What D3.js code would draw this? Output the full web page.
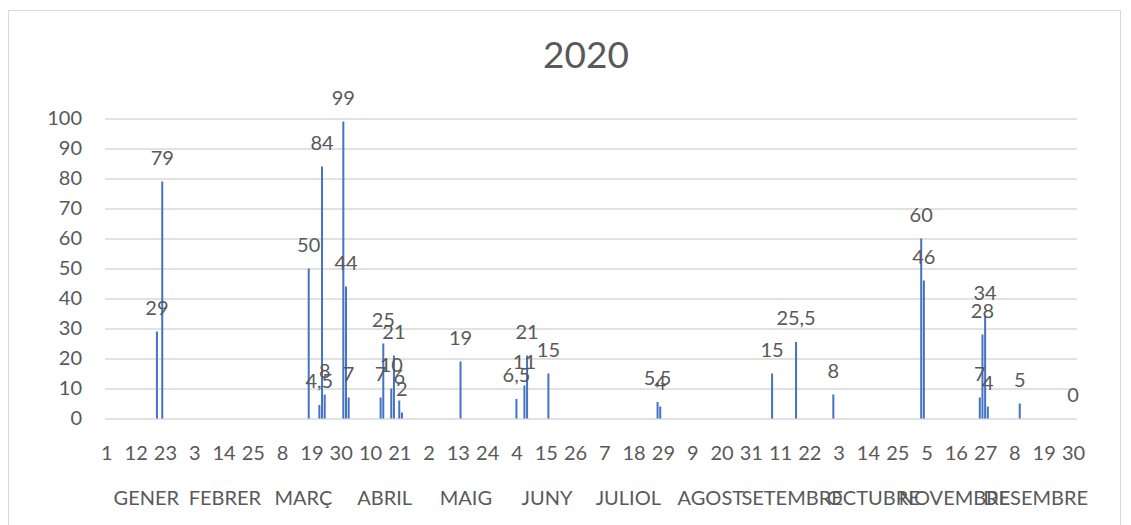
<!DOCTYPE html>
<html>
<head>
<meta charset="utf-8">
<script src="https://cdn.jsdelivr.net/npm/d3@7"></script>
<style>
  body { margin: 0; background: #fff; }
  text { font-family: Lato, "Open Sans", sans-serif; fill: #595959; }
</style>
</head>
<body>
<svg id="chart"></svg>
<script>
// day of year (0 = 1 gener) and value for each bar
const days   = [19, 21, 76, 80, 81, 82, 89, 90, 91, 103, 104, 107, 108, 110, 111, 133, 154, 157, 158, 166, 207, 208, 250, 259, 273, 306, 307, 328, 329, 330, 331, 343, 363];
const values = [29, 79, 50, 4.5, 84, 8, 99, 44, 7, 7, 25, 10, 21, 6, 2, 19, 6.5, 11, 21, 15, 5.5, 4, 15, 25.5, 8, 60, 46, 7, 28, 34, 4, 5, 0];

// x tick labels, one every 11 days
const tickLabels = [1, 12, 23, 3, 14, 25, 8, 19, 30, 10, 21, 2, 13, 24, 4, 15, 26, 7, 18, 29, 9, 20, 31, 11, 22, 3, 14, 25, 5, 16, 27, 8, 19, 30];
const tickDays = tickLabels.map((d, i) => i * 11);

// month labels and the day each month starts on
const months = ["GENER", "FEBRER", "MARÇ", "ABRIL", "MAIG", "JUNY", "JULIOL", "AGOST", "SETEMBRE", "OCTUBRE", "NOVEMBRE", "DESEMBRE"];
const monthStarts = [0, 31, 59, 90, 120, 151, 181, 212, 243, 273, 304, 334, 365];

const yTicks = [0, 10, 20, 30, 40, 50, 60, 70, 80, 90, 100];

const width = 1131, height = 525;
const margin = { top: 118.5, right: 54, bottom: 106.5, left: 105 };

const svg = d3.select("#chart")
    .attr("width", width)
    .attr("height", height);

// chart border
svg.append("rect")
    .attr("x", 8.5).attr("y", 10.5)
    .attr("width", 1112).attr("height", 530)
    .attr("fill", "none")
    .attr("stroke", "#d9d9d9")
    .attr("stroke-width", 1);

// each day is one slot, marks sit in the middle of it
const x = d3.scaleLinear()
    .domain([0, 365])
    .range([margin.left, width - margin.right]);
const xc = d => x(d + 0.5);

const y = d3.scaleLinear()
    .domain([0, 100])
    .range([height - margin.bottom, margin.top]);

// title
svg.append("text")
    .attr("x", 586)
    .attr("y", 68)
    .attr("text-anchor", "middle")
    .style("font-size", "37px")
    .text("2020");

// gridlines + y labels
const yAxis = svg.append("g")
    .attr("transform", `translate(${margin.left},0)`)
    .call(d3.axisLeft(y).tickValues(yTicks).tickSize(-(x.range()[1] - x.range()[0])).tickPadding(23))
    .call(g => g.select(".domain").remove());
yAxis.selectAll(".tick line")
    .attr("stroke", "#d9d9d9")
    .attr("stroke-width", 1.5);
yAxis.selectAll(".tick text")
    .style("font-size", "20px")
    .attr("fill", "#595959");

// bars
svg.append("g")
    .attr("fill", "#4472c4")
    .selectAll("rect")
    .data(days)
    .join("rect")
    .attr("x", d => xc(d) - 1)
    .attr("width", 2)
    .attr("y", (d, i) => y(values[i]))
    .attr("height", (d, i) => y(0) - y(values[i]));

// data labels
const fmt = v => String(v).replace(".", ",");
svg.append("g")
    .selectAll("text")
    .data(days)
    .join("text")
    .attr("x", d => xc(d))
    .attr("y", (d, i) => y(values[i]) - 17)
    .attr("text-anchor", "middle")
    .style("font-size", "20px")
    .text((d, i) => fmt(values[i]));

// x axis (day numbers)
const xAxis = svg.append("g")
    .attr("transform", `translate(0,${y(0)})`)
    .call(d3.axisBottom(x).tickValues(tickDays.map(d => d + 0.5)).tickFormat((d, i) => tickLabels[i]).tickSize(0).tickPadding(27))
    .call(g => g.select(".domain").remove());
xAxis.selectAll(".tick text")
    .style("font-size", "20px")
    .attr("fill", "#595959");

// month labels, centred under each month
svg.append("g")
    .selectAll("text")
    .data(months)
    .join("text")
    .attr("x", (d, i) => x((monthStarts[i] + monthStarts[i + 1]) / 2))
    .attr("y", 505)
    .attr("text-anchor", "middle")
    .style("font-size", "20px")
    .text(d => d);
</script>
</body>
</html>
